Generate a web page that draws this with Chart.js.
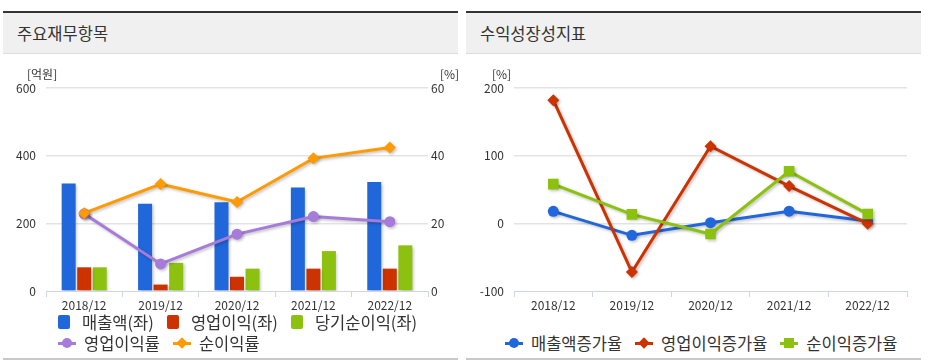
<!DOCTYPE html>
<html>
<head>
<meta charset="utf-8">
<script src="https://cdn.jsdelivr.net/npm/chart.js@4"></script>
<style>
  html, body { margin:0; padding:0; }
  body { width:930px; height:364px; position:relative; background:#fff; overflow:hidden;
         font-family:'Noto Sans CJK KR','Noto Sans',sans-serif; color:#333; }
  .panel { position:absolute; top:11px; width:455px; height:345px;
           border-top:2px solid #333; border-bottom:2px solid #c8c8c8; }
  .hdr { position:absolute; left:0; top:0; width:455px; height:40px; background:#f0f0f0;
         border-bottom:1px solid #dcdcdc; }
  .hdr span { position:absolute; left:14px; top:0; line-height:40px; font-size:16.5px; color:#333; }
  canvas { position:absolute; }
  .unit { position:absolute; font-size:12px; color:#333; line-height:14px; }
  .lg { position:absolute; display:flex; align-items:center; height:20px; font-size:16.5px; color:#333; white-space:nowrap; }
  .it { display:flex; align-items:center; margin-right:13px; }
  .sq { width:12px; height:14px; border-radius:2px; margin-right:12px; }
  .li { position:relative; width:18px; height:14px; margin-right:8px; }
  .li .ln { position:absolute; left:0; top:6px; width:18px; height:3px; }
  .li .mk { position:absolute; }
</style>
</head>
<body>
<div class="panel" style="left:3px;"><div class="hdr"><span>주요재무항목</span></div></div>
<div class="panel" style="left:466px;"><div class="hdr"><span>수익성장성지표</span></div></div>

<canvas id="c1" width="455" height="270" style="left:3px; top:54px;"></canvas>
<canvas id="c2" width="455" height="270" style="left:466px; top:54px;"></canvas>

<div class="unit" style="left:27px; top:67px;">[억원]</div>
<div class="unit" style="left:440px; top:67px;">[%]</div>
<div class="unit" style="left:492px; top:67px;">[%]</div>

<div class="lg" id="lg1a" style="left:58px; top:312px;"></div>
<div class="lg" id="lg1b" style="left:58px; top:333px;"></div>
<div class="lg" id="lg2" style="left:505px; top:333px;"></div>

<script>
// ---- data ----
const categories = ['2018/12', '2019/12', '2020/12', '2021/12', '2022/12'];
const sales      = [318, 258, 262, 306, 322];   // 매출액(좌)
const opIncome   = [70, 19, 42, 66, 66];        // 영업이익(좌)
const netIncome  = [70, 83, 66, 118, 135];      // 당기순이익(좌)
const opMargin   = [22.8, 8.0, 16.8, 22.0, 20.5];  // 영업이익률
const netMargin  = [23.0, 31.6, 26.3, 39.2, 42.4]; // 순이익률
const salesGrowth = [17.7, -17.7, 1.0, 18.0, 3.5];   // 매출액증가율
const opGrowth    = [182, -72, 114, 55, -0.5];       // 영업이익증가율
const netGrowth   = [58, 13.3, -15.8, 77, 13.7];     // 순이익증가율
const leftTicks   = [0, 200, 400, 600];
const rightTicks  = [0, 20, 40, 60];
const growthTicks = [-100, 0, 100, 200];

const C = { blue:'#2167dc', red:'#cc3300', green:'#8cc20f', purple:'#a67bda', orange:'#ff9a00' };

Chart.defaults.font.family = "'Noto Sans CJK KR','Noto Sans',sans-serif";
Chart.defaults.font.size = 12;
Chart.defaults.color = '#333';

const shadowPlugin = {
  id: 'shadow',
  beforeDatasetDraw(chart) {
    const ctx = chart.ctx; ctx.save();
    ctx.shadowColor = 'rgba(0,0,0,0.25)'; ctx.shadowBlur = 3;
    ctx.shadowOffsetX = 1.5; ctx.shadowOffsetY = 1.5;
  },
  afterDatasetDraw(chart) { chart.ctx.restore(); }
};

function gridColor(minV) {
  return (ctx) => (ctx.tick && ctx.tick.value === minV) ? 'rgba(0,0,0,0)' : '#e3e3e3';
}
function xAxis() {
  return {
    offset: true,
    grid: { offset: true, drawOnChartArea: false, drawTicks: true, tickLength: 6, tickColor: '#ccd6eb', tickWidth: 1 },
    border: { display: true, color: '#ccd6eb', width: 1 },
    ticks: { padding: 1, color: '#333', font: { size: 12 }, maxRotation: 0, autoSkip: false },
    afterFit(s) { s.height = 33; }
  };
}
function fixedTicks(arr) {
  return (scale) => { scale.ticks = arr.map(v => ({ value: v })); };
}

new Chart(document.getElementById('c1'), {
  data: {
    labels: categories,
    datasets: [
      { type:'line', label:'순이익률', data: netMargin, yAxisID:'y1', order:0,
        borderColor:C.orange, backgroundColor:C.orange, borderWidth:3,
        pointStyle:'rectRot', pointRadius:6, pointBorderWidth:0, tension:0 },
      { type:'line', label:'영업이익률', data: opMargin, yAxisID:'y1', order:1,
        borderColor:C.purple, backgroundColor:C.purple, borderWidth:3,
        pointStyle:'circle', pointRadius:5.5, pointBorderWidth:0, tension:0 },
      { type:'bar', label:'매출액(좌)', data: sales, yAxisID:'y', order:2, backgroundColor:C.blue,
        categoryPercentage:0.61, barPercentage:0.9 },
      { type:'bar', label:'영업이익(좌)', data: opIncome, yAxisID:'y', order:3, backgroundColor:C.red,
        categoryPercentage:0.61, barPercentage:0.9 },
      { type:'bar', label:'당기순이익(좌)', data: netIncome, yAxisID:'y', order:4, backgroundColor:C.green,
        categoryPercentage:0.61, barPercentage:0.9 }
    ]
  },
  options: {
    responsive:false, animation:false, events:[], devicePixelRatio:1,
    layout: { padding: { top:34, left:0, right:0, bottom:0 } },
    plugins: { legend:{display:false}, tooltip:{enabled:false} },
    scales: {
      x: xAxis(),
      y: { position:'left', min: leftTicks[0], max: leftTicks[leftTicks.length-1],
           afterBuildTicks: fixedTicks(leftTicks),
           grid: { drawTicks:false, color: gridColor(leftTicks[0]), lineWidth:1.5 },
           border: { display:false },
           ticks: { padding:10, color:'#333' },
           afterFit(s) { s.width = 43; } },
      y1: { position:'right', min: rightTicks[0], max: rightTicks[rightTicks.length-1],
           afterBuildTicks: fixedTicks(rightTicks),
           grid: { display:false, drawTicks:false },
           border: { display:false },
           ticks: { padding:3, color:'#333' },
           afterFit(s) { s.width = 30; } }
    }
  },
  plugins: [shadowPlugin]
});

new Chart(document.getElementById('c2'), {
  type: 'line',
  data: {
    labels: categories,
    datasets: [
      { label:'매출액증가율', data: salesGrowth, order:3, borderColor:C.blue, backgroundColor:C.blue,
        borderWidth:3, pointStyle:'circle', pointRadius:5.5, pointBorderWidth:0, tension:0 },
      { label:'영업이익증가율', data: opGrowth, order:2, borderColor:C.red, backgroundColor:C.red,
        borderWidth:3, pointStyle:'rectRot', pointRadius:6, pointBorderWidth:0, tension:0 },
      { label:'순이익증가율', data: netGrowth, order:1, borderColor:C.green, backgroundColor:C.green,
        borderWidth:3, pointStyle:'rect', pointRadius:7.5, pointBorderWidth:0, tension:0 }
    ]
  },
  options: {
    responsive:false, animation:false, events:[], devicePixelRatio:1,
    layout: { padding: { top:34, left:0, right:14, bottom:0 } },
    plugins: { legend:{display:false}, tooltip:{enabled:false} },
    scales: {
      x: xAxis(),
      y: { min: growthTicks[0], max: growthTicks[growthTicks.length-1],
           afterBuildTicks: fixedTicks(growthTicks),
           grid: { drawTicks:false, color: gridColor(growthTicks[0]), lineWidth:1.5 },
           border: { display:false },
           ticks: { padding:10, color:'#333' },
           afterFit(s) { s.width = 48; } }
    }
  },
  plugins: [shadowPlugin]
});

// ---- HTML legends ----
function sqItem(color, text) {
  return `<div class="it"><div class="sq" style="background:${color}"></div><span>${text}</span></div>`;
}
function lineItem(color, shape, text) {
  let mk = '';
  if (shape === 'circle') mk = `<div class="mk" style="left:4px;top:2px;width:10px;height:10px;border-radius:50%;background:${color}"></div>`;
  if (shape === 'diamond') mk = `<div class="mk" style="left:5px;top:3px;width:8px;height:8px;transform:rotate(45deg);background:${color}"></div>`;
  if (shape === 'square') mk = `<div class="mk" style="left:4px;top:2px;width:10px;height:10px;background:${color}"></div>`;
  return `<div class="it"><div class="li"><div class="ln" style="background:${color}"></div>${mk}</div><span>${text}</span></div>`;
}
document.getElementById('lg1a').innerHTML =
  sqItem(C.blue, '매출액(좌)') + sqItem(C.red, '영업이익(좌)') + sqItem(C.green, '당기순이익(좌)');
document.getElementById('lg1b').innerHTML =
  lineItem(C.purple, 'circle', '영업이익률') + lineItem(C.orange, 'diamond', '순이익률');
document.getElementById('lg2').innerHTML =
  lineItem(C.blue, 'circle', '매출액증가율') + lineItem(C.red, 'diamond', '영업이익증가율') + lineItem(C.green, 'square', '순이익증가율');
</script>
</body>
</html>
